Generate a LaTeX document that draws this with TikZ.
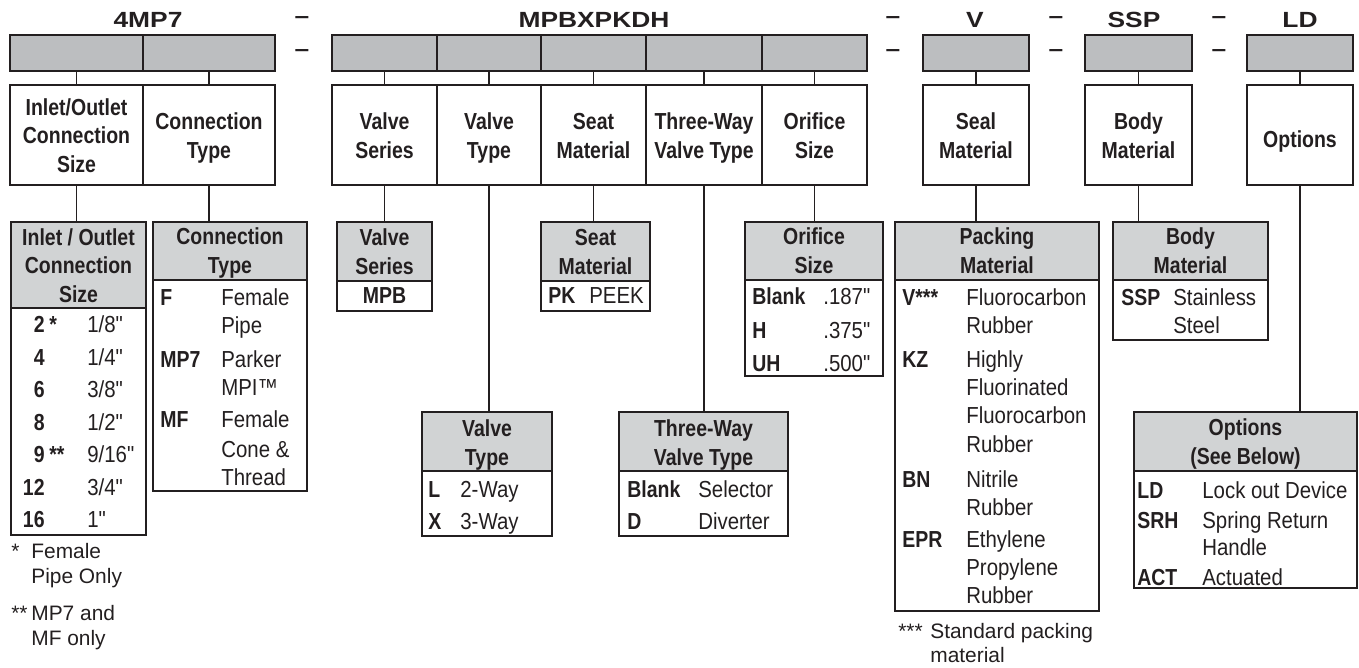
\documentclass[tikz,border=0pt]{standalone}
\usepackage{fontspec}
\setmainfont{Liberation Sans}
\newfontfamily\cndfont{Liberation Sans}[FakeStretch=0.88]
\newfontfamily\cndbold{Liberation Sans}[FakeStretch=0.84]
\newfontfamily\widebold{Liberation Sans}[FakeStretch=1.2]
\usetikzlibrary{fit}
\definecolor{ink}{HTML}{231F20}
\definecolor{codegray}{HTML}{BCBEC0}
\definecolor{headgray}{HTML}{D1D3D4}
\newlength\pxl
\setlength\pxl{0.02cm}
\newcommand\stacked[1]{\begin{tabular}[b]{@{}c@{}}#1\end{tabular}}
\begin{document}
\begin{tikzpicture}
[x=\pxl, y=-\pxl,
 codebox/.style={draw=ink,fill=codegray,line width=1.1pt,inner sep=0pt},
 namebox/.style={draw=ink,fill=white,line width=1.1pt,inner sep=0pt},
 headbox/.style={namebox,fill=headgray},
 bodybox/.style={draw=ink,line width=1.1pt,inner sep=0pt},
 nametext/.style={anchor=base,inner sep=0pt,text=ink,font=\cndbold\bfseries\fontsize{13.2}{16.2}\selectfont},
 code/.style={anchor=base west,inner sep=0pt,text=ink,font=\cndbold\bfseries\fontsize{13.2}{16.2}\selectfont},
 val/.style={anchor=base west,inner sep=0pt,text=ink,font=\cndfont\fontsize{13.2}{16.2}\selectfont},
 note/.style={anchor=base west,inner sep=0pt,text=ink,font=\fontsize{11.9}{14}\selectfont},
 toplabel/.style={anchor=base,inner sep=0pt,text=ink,font=\widebold\bfseries\fontsize{12.5}{15}\selectfont},
 link/.style={draw=ink,line width=1.1pt}]
\useasboundingbox (0,0) rectangle (1359,667);
% part number and dashes
\node[toplabel] (lab1) at (148,27) {4MP7};
\node[toplabel] (lab2) at (594,27) {MPBXPKDH};
\node[toplabel] (lab3) at (975,27) {V};
\node[toplabel] (lab4) at (1134,27) {SSP};
\node[toplabel] (lab5) at (1300,27) {LD};
\foreach \x [count=\i] in {302,893,1056,1219} {
  \node[toplabel] (dt\i) at (\x,23) {–};
  \node[toplabel] (db\i) at (\x,56) {–};
}
% code boxes and field names
\foreach \n/\a/\b/\yb/\txt in {1/10/143/172/{Inlet/Outlet\\Connection\\Size}, 2/143/275/158/{Connection\\Type},
  3/332/437/158/{Valve\\Series}, 4/437/541/158/{Valve\\Type}, 5/541/646/158/{Seat\\Material},
  6/646/762/158/{Three-Way\\Valve Type}, 7/762/867/158/{Orifice\\Size}, 8/923/1029/158/{Seal\\Material},
  9/1085/1192/158/{Body\\Material}, 10/1247/1353/147/{Options}} {
  \node[codebox, fit={(\a,35) (\b,71)}] (c\n) {};
  \node[namebox, fit={(\a,85) (\b,185)}] (n\n) {};
  \node[nametext] (nt\n) at ({(\a+\b)/2},\yb) {\stacked{\txt}};
  \draw[link] (c\n) -- (n\n);
}
% tables: body, header, header text
\foreach \t/\a/\b/\yh/\yf/\yt/\txt in {size/11/146/222/308/302/{Inlet / Outlet\\Connection\\Size},
  conn/153/307/222/280/273/{Connection\\Type}, series/337/432/222/281/274/{Valve\\Series},
  seat/541/650/222/281/274/{Seat\\Material}, orifice/745/883/222/280/273/{Orifice\\Size},
  pack/895/1099/222/280/273/{Packing\\Material}, body/1113/1268/222/280/273/{Body\\Material},
  vtype/422/552/412/471/465/{Valve\\Type}, three/619/788/412/471/465/{Three-Way\\Valve Type},
  opt/1134/1357/412/471/464/{Options\\(See Below)}} {
  \node[headbox, fit={(\a,\yh) (\b,\yf)}] (h\t) {};
  \node[nametext] (ht\t) at ({(\a+\b)/2},\yt) {\stacked{\txt}};
}
\node[bodybox, fit={(11,308) (146,535)}] (bsize) {};
\node[bodybox, fit={(153,280) (307,491)}] (bconn) {};
\node[bodybox, fit={(337,281) (432,311)}] (bseries) {};
\node[bodybox, fit={(541,281) (650,311)}] (bseat) {};
\node[bodybox, fit={(745,280) (883,376)}] (borifice) {};
\node[bodybox, fit={(895,280) (1099,611)}] (bpack) {};
\node[bodybox, fit={(1113,280) (1268,340)}] (bbody) {};
\node[bodybox, fit={(422,471) (552,536)}] (bvtype) {};
\node[bodybox, fit={(619,471) (788,536)}] (bthree) {};
\node[bodybox, fit={(1134,471) (1357,588)}] (bopt) {};
% links down to the tables
\foreach \n/\t in {1/size,2/conn,3/series,4/vtype,5/seat,6/three,7/orifice,8/pack,9/body,10/opt}
  \draw[link] (n\n.south) -- (n\n.south |- h\t.north);
% connection size
\foreach \cd/\vl/\yy in {2/{1/8"}/332, 4/{1/4"}/365, 6/{3/8"}/397, 8/{1/2"}/430,
  9/{9/16"}/462, 12/{3/4"}/495, 16/{1"}/527} {
  \node[code, anchor=base east] (size\cd) at (45,\yy) {\cd};
  \node[val] (sizev\cd) at (87,\yy) {\vl};
}
\node[code] (star2) at (49,332) {*};
\node[code] (star9) at (49,462) {**};
\node[note] (fn1) at (11,558) {*};
\node[note] (fn1a) at (31,558) {Female};
\node[note] (fn1b) at (31,583) {Pipe Only};
\node[note] (fn2) at (11,620) {**};
\node[note] (fn2a) at (31,620) {MP7 and};
\node[note] (fn2b) at (31,645) {MF only};
% connection type
\node[code] (connF) at (160,305) {F};
\node[code] (connMP) at (160,367) {MP7};
\node[code] (connMF) at (160,427) {MF};
\foreach \vl/\yy [count=\i] in {Female/305, Pipe/333, Parker/367, MPI™/395, Female/427, Cone \&/457, Thread/485}
  \node[val] (connv\i) at (221,\yy) {\vl};
% valve series, seat
\node[code, anchor=base] (seriesMPB) at (384.5,303) {MPB};
\node[code] (seatPK) at (548,303) {PK};
\node[val] (seatv) at (589,303) {PEEK};
% orifice
\foreach \cd/\vl/\yy [count=\i] in {Blank/.187"/304, H/.375"/338, UH/.500"/371} {
  \node[code] (ori\i) at (752,\yy) {\cd};
  \node[val] (oriv\i) at (823,\yy) {\vl};
}
% packing
\node[code] (packV) at (902,305) {V***};
\node[code] (packKZ) at (902,367) {KZ};
\node[code] (packBN) at (902,487) {BN};
\node[code] (packEPR) at (902,547) {EPR};
\foreach \vl/\yy [count=\i] in {Fluorocarbon/305, Rubber/333, Highly/367, Fluorinated/395, Fluorocarbon/423,
  Rubber/452, Nitrile/487, Rubber/515, Ethylene/547, Propylene/575, Rubber/603}
  \node[val] (packv\i) at (966,\yy) {\vl};
\node[note] (fn3) at (898,638) {***};
\node[note] (fn3a) at (930,638) {Standard packing};
\node[note] (fn3b) at (930,662) {material};
% body
\node[code] (bodySSP) at (1121,305) {SSP};
\node[val] (bodyv1) at (1173,305) {Stainless};
\node[val] (bodyv2) at (1173,333) {Steel};
% valve type, three-way
\node[code] (vtL) at (428,497) {L};
\node[val] (vtv1) at (460,497) {2-Way};
\node[code] (vtX) at (428,529) {X};
\node[val] (vtv2) at (460,529) {3-Way};
\node[code] (thBlank) at (627,497) {Blank};
\node[val] (thv1) at (698,497) {Selector};
\node[code] (thD) at (627,529) {D};
\node[val] (thv2) at (698,529) {Diverter};
% options
\node[code] (optLD) at (1137,498) {LD};
\node[val] (optv1) at (1202,498) {Lock out Device};
\node[code] (optSRH) at (1137,528) {SRH};
\node[val] (optv2) at (1202,528) {Spring Return};
\node[val] (optv3) at (1202,555) {Handle};
\node[code] (optACT) at (1137,585) {ACT};
\node[val] (optv4) at (1202,585) {Actuated};
\end{tikzpicture}
\end{document}
